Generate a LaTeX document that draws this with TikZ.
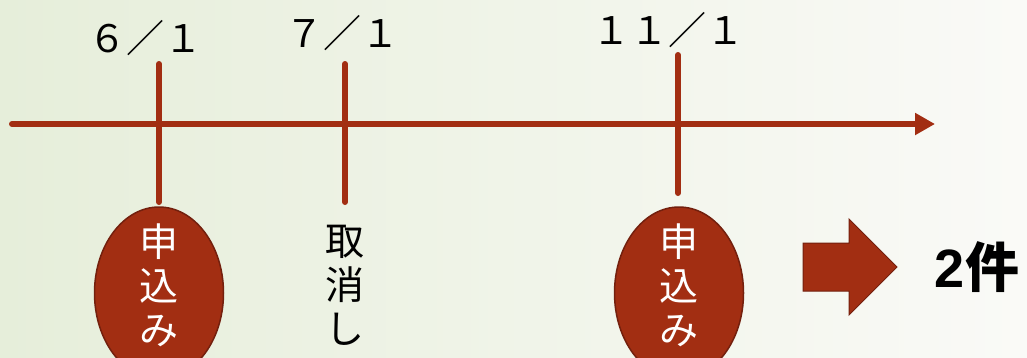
\documentclass[tikz,border=0pt]{standalone}
\usepackage{fontspec}
\newfontfamily\cjk{Noto Sans CJK JP}
\newfontfamily\arialish{Liberation Sans}
\usetikzlibrary{arrows.meta,shapes.geometric}
\definecolor{tlred}{RGB}{162,46,18}
\definecolor{tlborder}{RGB}{115,32,14}
\definecolor{bgleft}{RGB}{230,238,218}
\definecolor{bgright}{RGB}{250,250,247}
\tikzset{
  axisline/.style={line width=6pt, color=tlred, line cap=round},
  tickline/.style={line width=6pt, color=tlred, line cap=round},
  datelabel/.style={font=\cjk\fontsize{38pt}{42pt}\selectfont, text=black, inner sep=0pt},
  eventball/.style={ellipse, fill=tlred, draw=tlborder, line width=1.5pt, minimum width=129pt, minimum height=172pt, inner sep=0pt},
  vtext/.style={font=\cjk\fontsize{39pt}{44pt}\selectfont, align=center, inner sep=0pt},
}
\begin{document}
\begin{tikzpicture}[x=1pt,y=-1pt]
\useasboundingbox (0,0) rectangle (1027,357);
\shade[left color=bgleft, right color=bgright] (0,0) rectangle (1027,357);

% axis
\coordinate (axS) at (12,124);
\coordinate (axE) at (935,124);
\draw[axisline, -{Triangle[length=20pt,width=21pt]}] (axS) -- (axE);

% ticks
\coordinate (t1top) at (159,64);  \coordinate (t1bot) at (159,202);
\coordinate (t2top) at (345,64);  \coordinate (t2bot) at (345,202);
\coordinate (t3top) at (678,55);  \coordinate (t3bot) at (678,193);
\draw[tickline] (t1top) -- (t1bot);
\draw[tickline] (t2top) -- (t2bot);
\draw[tickline] (t3top) -- (t3bot);

% date labels
\node[datelabel] (d1) at (145,38) {６／１};
\node[datelabel] (d2) at (342,33) {７／１};
\node[datelabel] (d3) at (668,30) {１１／１};

% events
\node[eventball] (e1) at (159,293) {};
\node[vtext, text=white] (e1t) at (159,285) {申\\込\\み};
\node[vtext, text=black] (e2t) at (345,285) {取\\消\\し};
\node[eventball] (e3) at (679,293) {};
\node[vtext, text=white] (e3t) at (679,285) {申\\込\\み};

% block arrow
\draw[fill=tlred, draw=tlborder, line width=1pt]
  (803,243) -- (849,243) -- (849,219) -- (897,267) -- (849,315) -- (849,291) -- (803,291) -- cycle;

% result
\node[font=\bfseries\fontsize{54pt}{58pt}\selectfont, inner sep=0pt] (res) at (977,267) {{\arialish 2}{\cjk 件}};
\end{tikzpicture}
\end{document}
